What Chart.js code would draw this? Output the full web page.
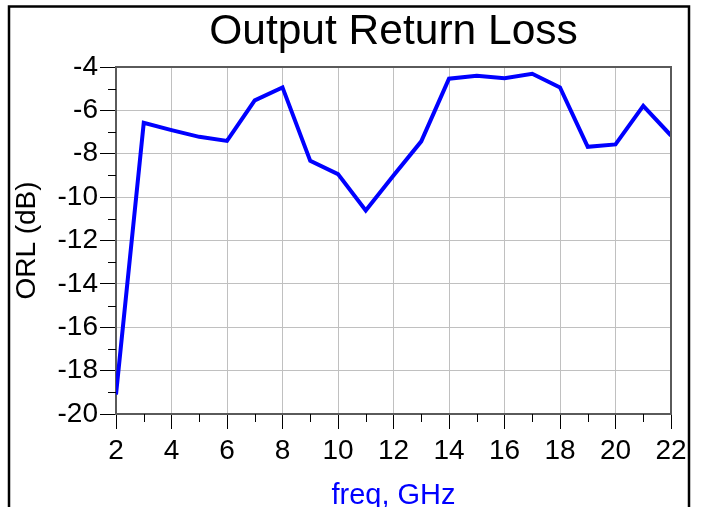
<!DOCTYPE html>
<html>
<head>
<meta charset="utf-8">
<script src="https://cdn.jsdelivr.net/npm/chart.js@4/dist/chart.umd.min.js"></script>
<style>
  html, body { margin: 0; padding: 0; background: #fff; }
  #wrap { width: 702px; height: 507px; position: relative; }
</style>
</head>
<body>
<div id="wrap"><canvas id="c" width="702" height="507"></canvas></div>
<script>
// ---- data ----
const freqGHz = [2, 3, 4, 5, 6, 7, 8, 9, 10, 11, 12, 13, 14, 15, 16, 17, 18, 19, 20, 21, 22];
const orlDb   = [-19.1, -6.57, -6.91, -7.22, -7.41, -5.54, -4.94, -8.33, -8.94, -10.62, -9.0,
                 -7.43, -4.54, -4.40, -4.52, -4.31, -4.94, -7.68, -7.57, -5.79, -7.16];
const xTickValues  = [2, 4, 6, 8, 10, 12, 14, 16, 18, 20, 22];
const xMinorValues = [3, 5, 7, 9, 11, 13, 15, 17, 19, 21];
const yTickValues  = [-20, -18, -16, -14, -12, -10, -8, -6, -4];
const yMinorValues = [-19, -17, -15, -13, -11, -9, -7, -5];
const chartTitle = 'Output Return Loss';
const xTitle = 'freq, GHz';
const yTitle = 'ORL (dB)';

const FONT = "'Liberation Sans', Arial, sans-serif";

const framePlugin = {
  id: 'framePlugin',
  beforeDraw(chart) {
    const ctx = chart.ctx;
    ctx.save();
    ctx.fillStyle = '#ffffff';
    ctx.fillRect(0, 0, chart.width, chart.height);
    ctx.restore();
  },
  afterDraw(chart) {
    const { ctx, chartArea: a, scales } = chart;
    const x = scales.x, y = scales.y;
    ctx.save();
    ctx.strokeStyle = '#000000';
    ctx.lineWidth = 1;
    xMinorValues.forEach(v => {
      const px = Math.round(x.getPixelForValue(v)) + 0.5;
      ctx.beginPath(); ctx.moveTo(px, a.bottom); ctx.lineTo(px, a.bottom + 8); ctx.stroke();
    });
    yMinorValues.forEach(v => {
      const py = Math.round(y.getPixelForValue(v)) + 0.5;
      ctx.beginPath(); ctx.moveTo(a.left - 8, py); ctx.lineTo(a.left, py); ctx.stroke();
    });
    ctx.strokeStyle = '#5a5a5a';
    ctx.lineWidth = 2;
    ctx.beginPath();
    ctx.moveTo(a.left, a.top); ctx.lineTo(a.right, a.top); ctx.lineTo(a.right, a.bottom);
    ctx.stroke();
    ctx.strokeStyle = '#000000';
    ctx.lineWidth = 2.5;
    ctx.strokeRect(9, 6.5, 680, 600);
    ctx.restore();
  }
};

new Chart(document.getElementById('c'), {
  type: 'line',
  data: {
    datasets: [{
      data: freqGHz.map((f, i) => ({ x: f, y: orlDb[i] })),
      borderColor: '#0000ff',
      borderWidth: 4,
      pointRadius: 0,
      tension: 0,
      borderJoinStyle: 'miter',
      borderCapStyle: 'butt',
      fill: false
    }]
  },
  options: {
    responsive: false,
    devicePixelRatio: 1,
    animation: false,
    events: [],
    layout: { padding: { left: 0, top: 0, right: 31, bottom: 0 } },
    plugins: {
      legend: { display: false },
      tooltip: { enabled: false },
      title: {
        display: true,
        text: chartTitle,
        fullSize: false,
        color: '#000',
        font: { family: FONT, size: 42.5, weight: 'normal', lineHeight: 1.2 },
        padding: { top: 7, bottom: 9 }
      }
    },
    scales: {
      x: {
        type: 'linear',
        min: 2, max: 22,
        afterBuildTicks(scale) { scale.ticks = xTickValues.map(v => ({ value: v })); },
        afterFit(scale) { scale.height = 93; },
        grid: { color: '#c0c0c0', lineWidth: 1, tickColor: '#000', tickLength: 15, tickWidth: 1 },
        border: { color: '#5a5a5a', width: 2 },
        ticks: { color: '#000', padding: 5, maxRotation: 0, autoSkip: false,
                 font: { family: FONT, size: 28, lineHeight: 1.2 } },
        title: { display: true, text: xTitle, color: '#0000ff', padding: 0,
                 font: { family: FONT, size: 29, lineHeight: 0.76 } }
      },
      y: {
        type: 'linear',
        min: -20, max: -4,
        afterBuildTicks(scale) { scale.ticks = yTickValues.map(v => ({ value: v })); },
        afterFit(scale) { scale.width = 116; },
        grid: { color: '#c0c0c0', lineWidth: 1, tickColor: '#000', tickLength: 16, tickWidth: 1 },
        border: { color: '#5a5a5a', width: 2 },
        ticks: { color: '#000', padding: 2, autoSkip: false,
                 font: { family: FONT, size: 28, lineHeight: 1.2 } },
        title: { display: true, text: yTitle, color: '#000', padding: { top: 10, bottom: 0 },
                 font: { family: FONT, size: 28, lineHeight: 1.2 } }
      }
    }
  },
  plugins: [framePlugin]
});
</script>
</body>
</html>
